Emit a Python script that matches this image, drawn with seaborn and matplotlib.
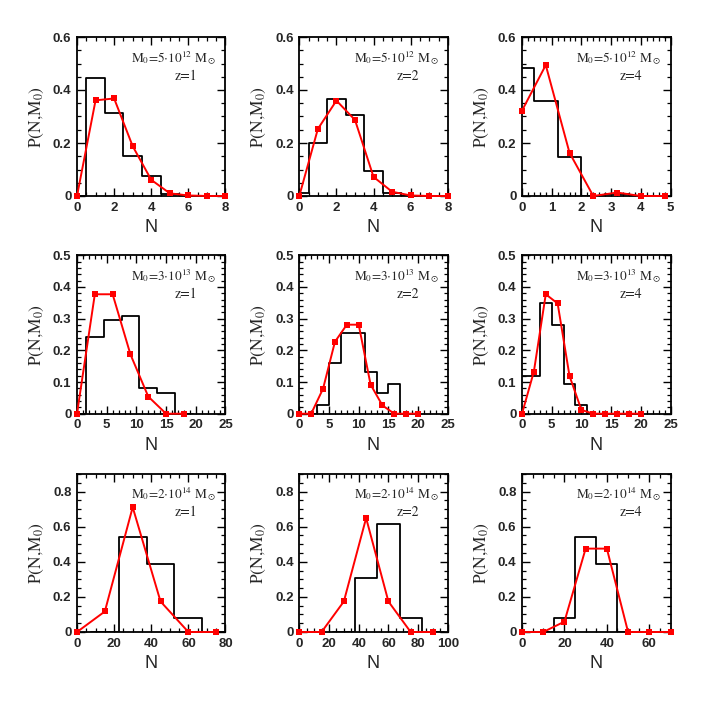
import numpy as np
import pandas as pd
import matplotlib
matplotlib.use("Agg")
import matplotlib.pyplot as plt
from matplotlib.ticker import MultipleLocator, FuncFormatter
import seaborn as sns

# halo masses (rows) and redshifts (columns)
mass_labels = [r"5$\cdot$10$^{12}$", r"3$\cdot$10$^{13}$", r"2$\cdot$10$^{14}$"]
redshifts = [1, 2, 4]

# --- M0 = 5e12 ---
hist_n_a1 = [1, 2, 3, 4, 5]
hist_p_a1 = [0.445, 0.312, 0.150, 0.075, 0.006]
model_n_a1 = [0, 1, 2, 3, 4, 5, 6, 7, 8]
model_p_a1 = [0.0, 0.361, 0.368, 0.188, 0.061, 0.010, 0.002, 0.0, 0.0]

hist_n_a2 = [0, 1, 2, 3, 4, 5]
hist_p_a2 = [0.011, 0.200, 0.365, 0.305, 0.095, 0.012]
model_n_a2 = [0, 1, 2, 3, 4, 5, 6, 7, 8]
model_p_a2 = [0.0, 0.253, 0.360, 0.287, 0.072, 0.016, 0.002, 0.0, 0.0]

hist_n_a4 = [0.0, 0.8, 1.6, 2.4, 3.2]
hist_p_a4 = [0.482, 0.359, 0.148, 0.0, 0.008]
model_n_a4 = [0.0, 0.8, 1.6, 2.4, 3.2, 4.0, 4.8]
model_p_a4 = [0.322, 0.494, 0.163, 0.0, 0.013, 0.0, 0.0]

# --- M0 = 3e13 ---
hist_n_b1 = [3, 6, 9, 12, 15]
hist_p_b1 = [0.241, 0.296, 0.308, 0.080, 0.064]
model_n_b1 = [0, 3, 6, 9, 12, 15, 18]
model_p_b1 = [0.0, 0.377, 0.377, 0.187, 0.054, 0.0, 0.0]

hist_n_b2 = [4, 6, 8, 10, 12, 14, 16]
hist_p_b2 = [0.027, 0.159, 0.254, 0.254, 0.133, 0.066, 0.093]
model_n_b2 = [0, 2, 4, 6, 8, 10, 12, 14, 16, 18, 20]
model_p_b2 = [0.0, 0.0, 0.079, 0.227, 0.281, 0.281, 0.092, 0.026, 0.0, 0.0, 0.0]

hist_n_b4 = [0, 2, 4, 6, 8, 10]
hist_p_b4 = [0.119, 0.119, 0.348, 0.281, 0.093, 0.027]
model_n_b4 = [0, 2, 4, 6, 8, 10, 12, 14, 16, 18, 20]
model_p_b4 = [0.0, 0.133, 0.377, 0.348, 0.119, 0.012, 0.0, 0.0, 0.0, 0.0, 0.0]

# --- M0 = 2e14 ---
hist_n_c1 = [30, 45, 60]
hist_p_c1 = [0.542, 0.385, 0.079]
model_n_c1 = [0, 15, 30, 45, 60, 75]
model_p_c1 = [0.0, 0.117, 0.711, 0.174, 0.0, 0.0]

hist_n_c2 = [45, 60, 75]
hist_p_c2 = [0.308, 0.617, 0.077]
model_n_c2 = [0, 15, 30, 45, 60, 75, 90]
model_p_c2 = [0.0, 0.0, 0.174, 0.649, 0.174, 0.0, 0.0]

hist_n_c4 = [20, 30, 40]
hist_p_c4 = [0.077, 0.542, 0.385]
model_n_c4 = [0, 10, 20, 30, 40, 50, 60, 70]
model_p_c4 = [0.0, 0.0, 0.059, 0.475, 0.475, 0.0, 0.0, 0.0]

bin_widths = [[1, 1, 0.8], [3, 2, 2], [15, 15, 10]]
hists = [[(hist_n_a1, hist_p_a1), (hist_n_a2, hist_p_a2), (hist_n_a4, hist_p_a4)],
         [(hist_n_b1, hist_p_b1), (hist_n_b2, hist_p_b2), (hist_n_b4, hist_p_b4)],
         [(hist_n_c1, hist_p_c1), (hist_n_c2, hist_p_c2), (hist_n_c4, hist_p_c4)]]
models = [[(model_n_a1, model_p_a1), (model_n_a2, model_p_a2), (model_n_a4, model_p_a4)],
          [(model_n_b1, model_p_b1), (model_n_b2, model_p_b2), (model_n_b4, model_p_b4)],
          [(model_n_c1, model_p_c1), (model_n_c2, model_p_c2), (model_n_c4, model_p_c4)]]

# axis settings per panel: (xmax, xmajor, xminor)
xaxes = [[(8, 2, 0.5), (8, 2, 0.5), (5, 1, 0.2)],
         [(25, 5, 1), (25, 5, 1), (25, 5, 1)],
         [(80, 20, 5), (100, 20, 5), (70, 20, 5)]]
yaxes = [(0.6, 0.2, 0.05), (0.5, 0.1, 0.02), (0.9, 0.2, 0.05)]

sns.set_style("ticks")
plt.rcParams.update({"mathtext.fontset": "stix"})

fig = plt.figure(figsize=(7.08, 7.08), dpi=100)
lefts = [77, 299.3, 522]
tops = [37, 255.3, 474]
bottoms = [196, 413.7, 632]

fmt = FuncFormatter(lambda v, p: "0" if abs(v) < 1e-9 else "%g" % v)

for r in range(3):
    for c in range(3):
        ax = fig.add_axes([lefts[c] / 708, 1 - bottoms[r] / 708, 148.5 / 708,
                           (bottoms[r] - tops[r]) / 708])
        w = bin_widths[r][c]
        hn, hp = hists[r][c]
        hdf = pd.DataFrame({"N": hn, "P": hp})
        edges = [float(e) for e in np.arange(min(hn) - 1.5 * w, max(hn) + 2 * w, w)]
        sns.histplot(data=hdf, x="N", weights="P", bins=edges, element="step",
                     fill=False, color="black", linewidth=1.3, ax=ax)
        mn, mp = models[r][c]
        mdf = pd.DataFrame({"N": mn, "P": mp})
        sns.lineplot(data=mdf, x="N", y="P", color="red", linewidth=1.4,
                     marker="s", markersize=4, markeredgewidth=0, ax=ax,
                     clip_on=False, zorder=3)

        x_hi, x_major, x_minor = xaxes[r][c]
        y_hi, y_major, y_minor = yaxes[r]
        ax.set_xlim(0, x_hi)
        ax.set_ylim(0, y_hi)
        ax.xaxis.set_major_locator(MultipleLocator(x_major))
        ax.xaxis.set_minor_locator(MultipleLocator(x_minor))
        ax.yaxis.set_major_locator(MultipleLocator(y_major))
        ax.yaxis.set_minor_locator(MultipleLocator(y_minor))
        ax.xaxis.set_major_formatter(fmt)
        ax.yaxis.set_major_formatter(fmt)
        ax.tick_params(axis="both", which="both", direction="in", top=True,
                       right=True, bottom=True, left=True, color="black")
        ax.tick_params(axis="both", which="major", length=6, width=1.0,
                       labelsize=9.5, pad=4)
        ax.tick_params(axis="both", which="minor", length=3, width=0.9)
        for lab in ax.get_xticklabels() + ax.get_yticklabels():
            lab.set_fontweight("bold")
            lab.set_family("Liberation Sans")
        for s in ax.spines.values():
            s.set_linewidth(1.3)
            s.set_visible(True)
            s.set_color("black")

        ax.set_xlabel("N", fontsize=13, family="Liberation Sans", labelpad=4)
        ax.set_ylabel(r"P(N,M$_0$)", fontsize=12.5, family="STIXGeneral",
                      labelpad=5)
        ax.text(0.365, 0.87, r"M$_0$=" + mass_labels[r] + r" M$_\odot$",
                transform=ax.transAxes, ha="left", va="center",
                fontsize=9.5, family="STIXGeneral")
        ax.text(0.655, 0.755, "z=%d" % redshifts[c], transform=ax.transAxes,
                ha="left", va="center", fontsize=10, family="STIXGeneral")

fig.savefig("out.png", dpi=100, facecolor="white")
